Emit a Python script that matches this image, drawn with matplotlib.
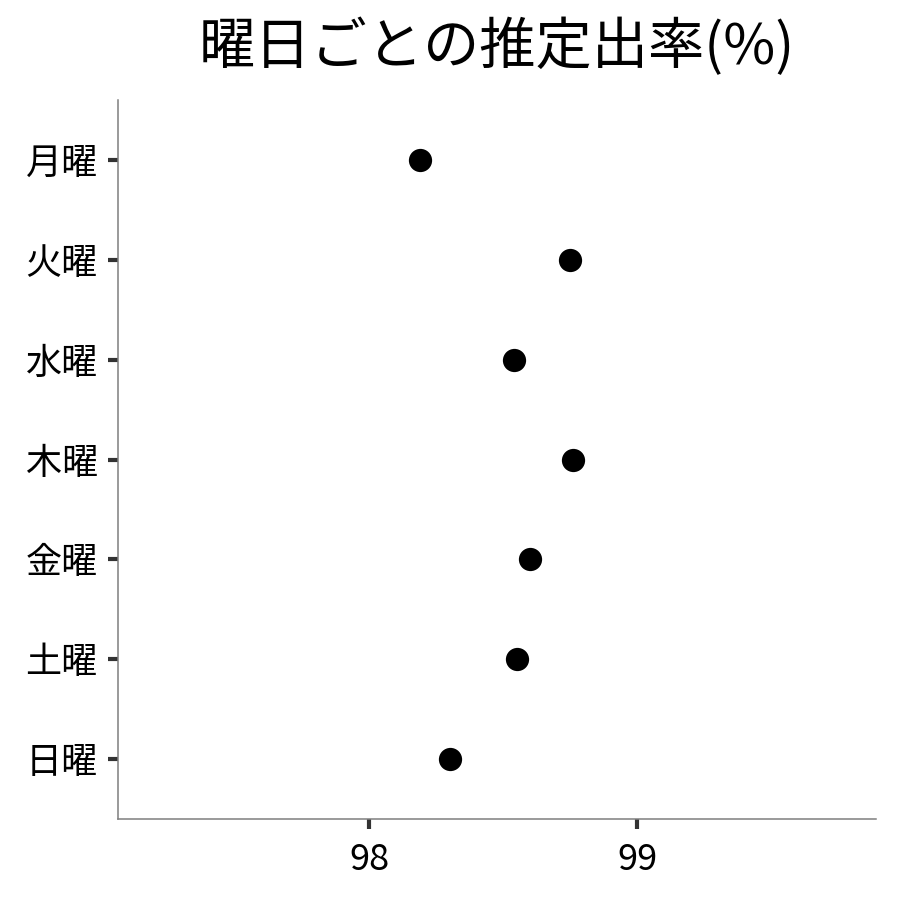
import matplotlib
matplotlib.use("Agg")
import matplotlib.pyplot as plt

plt.rcParams['font.family'] = ['Noto Sans CJK JP', 'DejaVu Sans']

days = ['月曜', '火曜', '水曜', '木曜', '金曜', '土曜', '日曜']
rates = [98.19, 98.75, 98.54, 98.76, 98.60, 98.55, 98.30]
xticks = [98, 99]
title = '曜日ごとの推定出率(%)'

fig = plt.figure(figsize=(9, 9), dpi=100)
left, right, bottom, top = 118/900, 876/900, 1-819/900, 1-100/900
ax = fig.add_axes([left, bottom, right-left, top-bottom])

ypos = list(range(len(days)))
ax.scatter(rates, ypos, s=280, color='black', zorder=3, linewidths=0)

ax.set_yticks(ypos)
ax.set_yticklabels(days)
ax.set_ylim(len(days)-1+0.6, -0.6)
ax.set_xticks(xticks)
ax.set_xticklabels([str(t) for t in xticks])
ax.set_xlim(97.064, 99.89)

for s in ['top', 'right']:
    ax.spines[s].set_visible(False)
for s in ['left', 'bottom']:
    ax.spines[s].set_color('#7f7f7f')
    ax.spines[s].set_linewidth(1.1)

ax.tick_params(axis='both', length=7.5, width=3, color='#333333', labelsize=26, labelcolor='black')
ax.tick_params(axis='y', pad=7)
ax.tick_params(axis='x', pad=9)

fig.text((left+right)/2, 1-48/900, title, fontsize=40.5, ha='center', va='center')

fig.savefig('out.png', dpi=100, facecolor='white')
